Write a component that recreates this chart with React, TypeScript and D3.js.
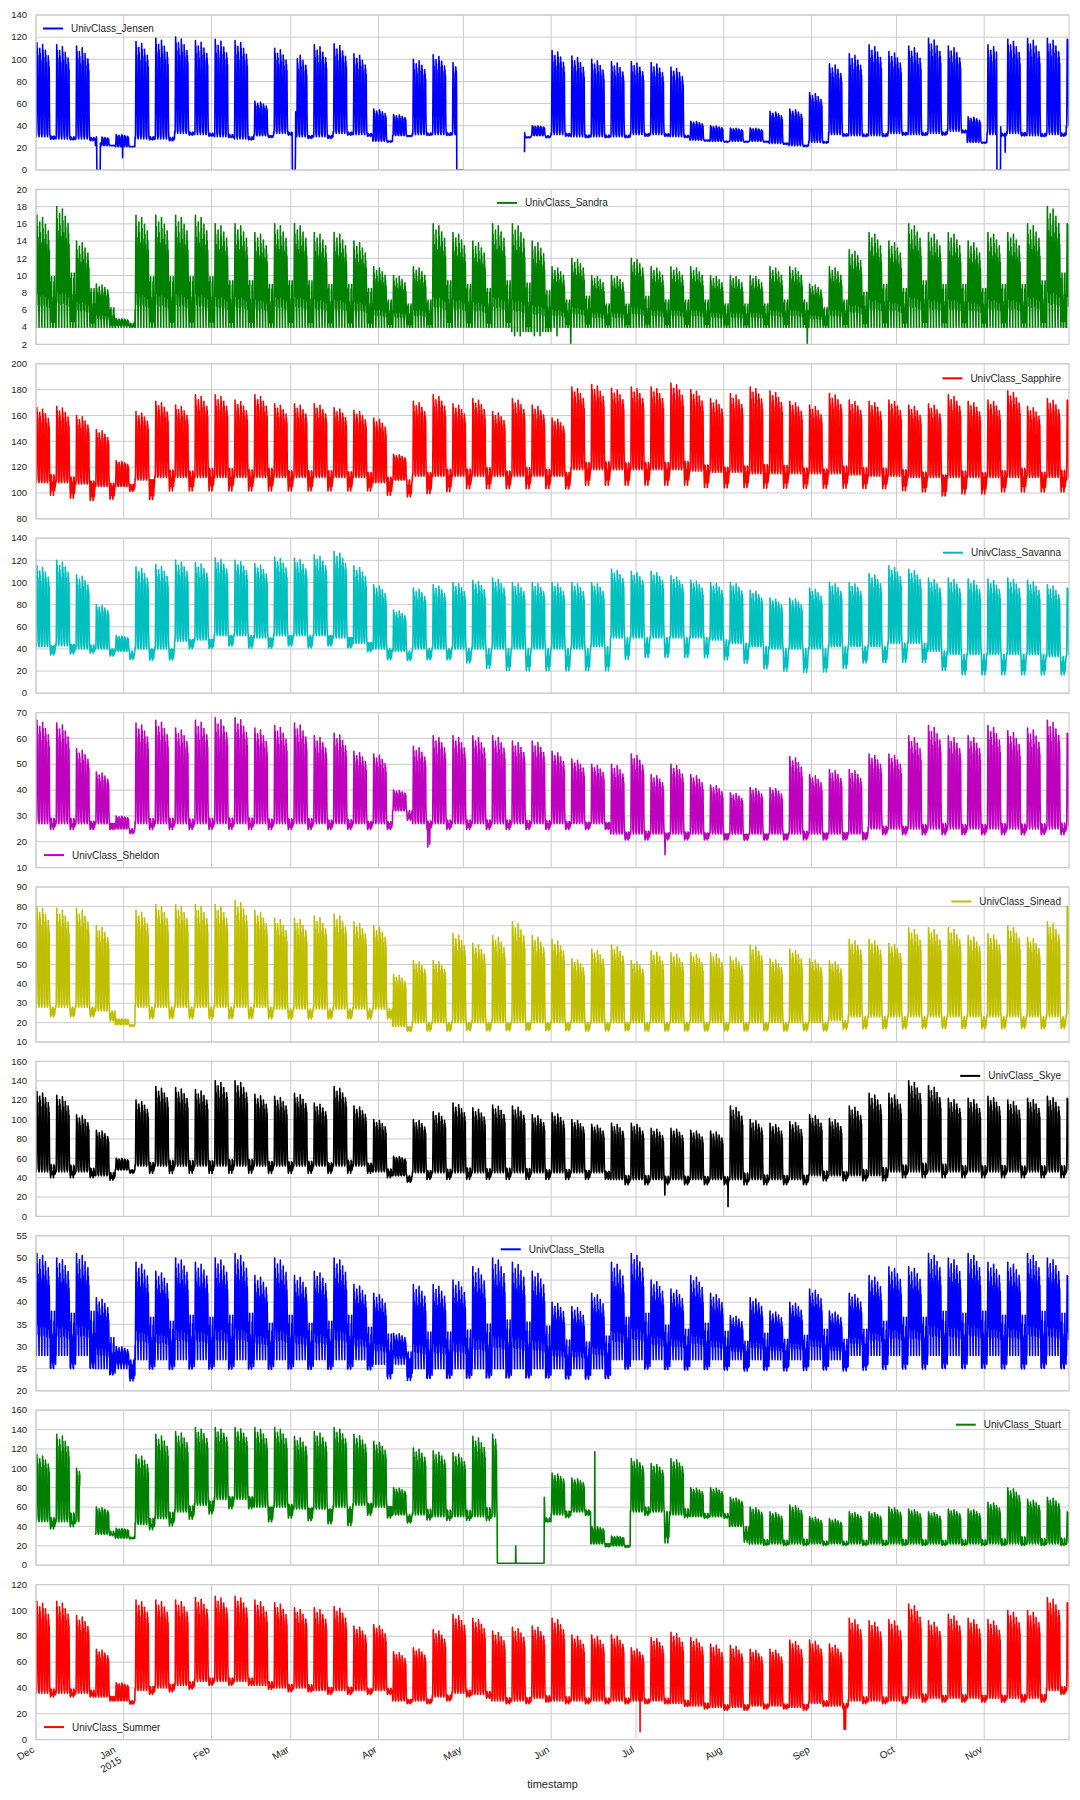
import React, { useMemo } from 'react';
import * as d3 from 'd3';

// ---- time frame: hourly meter data, Dec 2014 .. Nov 2015 (53 weeks starting Mondays)
const HOUR = 3600 * 1000;
const startDate = Date.UTC(2014, 11, 1);
const endDate = Date.UTC(2015, 10, 30, 23);
const at = (s: string) => Date.parse(s + ':00:00Z');

const monthTicks = ['2014-12-01', '2015-01-01', '2015-02-01', '2015-03-01', '2015-04-01', '2015-05-01',
  '2015-06-01', '2015-07-01', '2015-08-01', '2015-09-01', '2015-10-01', '2015-11-01'];
const monthLabels = ['Dec', 'Jan\n2015', 'Feb', 'Mar', 'Apr', 'May', 'Jun', 'Jul', 'Aug', 'Sep', 'Oct', 'Nov'];

// daily shape, one value every 2 hours
const weekdayShape = [0.02, 0, 0.04, 0.55, 1, 0.72, 0.94, 0.66, 0.86, 0.3, 0.1, 0.03];
const weekendShape = [1, 0.6, 0.25, 0, 0.35, 0.1, 0.45, 0.2, 0.55, 0.75, 0.9, 1];
const weekendBump = [0, 0, 0, 0.4, 1, 0.55, 0.85, 0.3, 0.1, 0, 0, 0];
// jumpier shape for the two rooms with noisy readings
const noisyWeekdayShape = [0.15, 0, 0.35, 0.7, 1, 0.45, 0.9, 0.3, 0.8, 0.55, 0.2, 0.4];
const noisyWeekendShape = [1, 0.3, 0.8, 0, 0.6, 0.2, 0.9, 0.1, 0.7, 0.4, 1, 0.5];
const noisyWeekendBump = [0.2, 0, 0.5, 0.1, 0.9, 0.3, 1, 0.2, 0.6, 0.1, 0.4, 0];
const weekdayScale = [1, 0.94, 0.98, 0.92, 0.86];

// ---- weekly readings (weekday peak, weekday night base, weekend low)
const jensenPeak = [115,113,112,30,32,116,119,120,117,118,117,62,110,105,113,114,105,55,50,100,104,97,30,30,35,40,108,103,100,98,98,97,93,44,40,38,38,53,55,70,96,105,113,107,112,119,112,48,113,118,119,119,118];
const jensenBase = [30,28,28,22,21,28,28,33,32,30,28,31,33,30,30,33,32,26,31,32,32,32,30,30,30,31,32,30,30,30,32,32,30,27,26,26,26,24,22,25,32,31,31,33,32,33,35,25,32,33,31,32,38];
const jensenWeekend = [27,27,26,22,21,27,26,31,30,29,27,29,31,28,28,31,30,25,30,31,31,31,30,30,29,29,30,29,29,29,30,30,29,26,25,25,25,23,21,24,30,30,30,31,31,31,33,24,30,30,30,30,36];

const sandraPeak = [17,18,14,9,5,17,17,17,17,16,16,15,16,16,15,15,14,11,10,11,16,15,14,16,16,14,11,12,10,10,12,11,11,11,10,10,10,11,11,9,11,13,15,14,16,15,15,14,15,15,16,18,16];
const sandraBase = [4,4,4,4,4,4,4,4,4,4,4,4,4,4,4,4,4,4,4,4,4,4,4,4,3.5,3.5,4,4,4,4,4,4,4,4,4,4,4,4,4,4,4,4,4,4,4,4,4,4,4,4,4,4,4];
const sandraWeekend = [4,4,4,4,4,4,4,4,4,4,4,4,4,4,4,4,4,4,4,4,4,4,4,4,3.5,3.5,4,4,4,4,4,4,4,4,4,4,4,4,4,4,4,4,4,4,4,4,4,4,4,4,4,4,4];

const sapphirePeak = [166,167,160,149,125,163,171,168,176,176,172,176,169,169,169,166,164,158,130,171,176,169,173,163,173,168,158,182,184,181,182,182,185,180,173,177,182,179,171,168,177,172,171,172,168,169,176,171,172,179,167,173,172];
const sapphireBase = [108,108,107,105,105,110,112,112,112,112,112,112,112,112,112,112,112,108,110,113,113,113,113,113,113,113,113,118,118,118,118,118,118,117,116,116,115,115,115,115,115,114,113,113,112,112,112,112,112,112,112,112,110];
const sapphireWeekend = [95,92,90,92,100,90,98,98,98,98,98,98,98,98,98,98,98,95,95,95,97,100,100,100,100,100,100,102,102,102,102,102,102,100,100,100,100,100,100,100,100,100,100,98,97,93,95,95,97,97,97,97,100];

const savannaPeak = [115,120,107,80,52,114,116,120,118,122,120,117,123,122,125,128,115,98,75,95,98,100,102,104,100,100,100,100,100,112,110,110,106,102,100,100,93,86,86,95,100,100,108,115,112,104,104,103,103,104,102,98,95];
const savannaBase = [42,43,40,40,38,40,40,47,48,52,52,50,52,52,52,50,45,40,38,40,40,40,40,40,40,40,40,40,42,50,50,50,50,50,48,45,42,40,40,40,42,42,42,45,45,38,35,35,35,35,35,33,33];
const savannaWeekend = [32,33,35,32,30,27,27,38,38,40,38,38,40,38,40,38,35,28,28,28,28,25,20,18,18,18,18,18,18,28,30,30,30,30,28,25,20,18,17,17,20,25,25,25,25,18,14,14,14,14,14,14,14];

const sheldonPeak = [67,66,56,47,30,66,67,64,67,68,68,64,65,66,61,62,55,54,40,57,61,61,61,61,59,59,55,52,50,50,54,46,50,46,42,39,41,41,53,46,48,48,54,54,61,65,61,61,65,63,64,67,62];
const sheldonBase = [27,27,27,27,25,27,27,27,27,27,27,27,27,27,27,27,27,27,32,27,27,27,27,27,27,27,27,27,27,23,23,23,23,23,23,23,23,23,23,23,23,23,25,25,25,25,25,25,25,25,25,25,25];
const sheldonWeekend = [24,24,24,24,23,24,24,24,24,24,24,24,24,24,24,24,24,24,28,24,24,24,24,24,24,24,24,24,24,20,20,20,20,20,20,20,20,20,20,20,20,20,22,22,22,22,22,22,22,22,22,22,22];

const sineadPeak = [80,79,79,70,22,78,81,81,81,81,83,78,74,74,75,76,72,70,45,52,52,66,61,65,72,65,63,53,58,60,52,57,56,56,56,54,60,53,58,53,52,63,63,61,69,69,69,65,66,70,64,72,80];
const sineadBase = [28,28,28,26,19,28,28,28,28,28,28,28,27,27,27,27,27,27,18,20,20,20,20,20,20,20,20,20,20,20,20,20,20,20,20,20,20,20,20,20,21,23,23,23,23,23,23,23,23,23,23,23,23];
const sineadWeekend = [22,22,22,20,18,21,21,21,21,21,21,21,21,21,21,21,21,21,15,15,15,15,15,15,15,15,15,15,15,15,15,15,15,15,15,15,15,15,15,15,16,16,16,16,16,16,16,16,16,16,16,16,16];

const skyePeak = [129,125,105,89,60,120,134,133,131,140,140,126,124,127,117,134,114,100,62,100,108,117,112,115,114,105,107,100,95,96,96,91,91,89,88,114,100,96,98,105,101,114,127,127,140,135,122,122,124,120,122,124,122];
const skyeBase = [46,46,46,42,48,52,52,52,52,52,52,52,52,52,52,52,52,46,42,45,45,45,45,45,45,45,45,45,45,38,38,38,38,38,38,38,38,38,38,42,42,42,42,46,46,46,46,46,46,46,46,46,46];
const skyeWeekend = [38,38,38,36,44,42,42,42,42,42,42,42,42,42,42,42,42,38,34,36,36,36,36,36,36,36,36,36,36,31,31,31,31,31,31,31,31,31,31,35,35,35,35,38,38,38,38,38,38,38,38,38,38];

const stellaPeak = [51,50,51,41,30,49,47,50,49,50,51,46,50,46,47,50,44,42,33,44,44,45,48,50,49,47,40,39,42,49,51,45,43,46,42,37,41,38,40,43,38,42,46,48,48,51,50,51,49,49,51,50,46];
const stellaBase = [28,28,28,25,25,27,27,27,27,27,27,27,27,27,27,27,27,26,26,25,25,25,25,25,25,25,25,25,25,27,27,27,27,27,27,27,27,27,27,27,27,28,28,28,28,28,28,28,28,28,28,28,28];
const stellaWeekend = [24,24,24,23,22,24,24,24,24,24,24,24,24,24,24,24,24,22,22,22,22,22,22,22,22,22,22,22,22,24,24,24,24,24,24,24,24,24,24,24,24,24,24,24,24,24,24,24,24,24,24,24,24];

const stuartPeak = [114,135,100,60,38,114,135,138,142,142,142,142,142,133,138,142,135,128,80,121,118,116,133,135,2,70,95,90,40,30,110,105,110,80,80,70,60,55,62,50,48,55,55,60,58,55,58,58,65,80,68,70,55];
const stuartBase = [45,45,45,32,28,42,48,55,62,68,68,60,60,58,58,60,62,60,52,52,50,50,50,50,2,45,52,55,22,20,55,55,52,50,50,40,22,22,22,22,22,22,22,22,22,22,22,22,22,22,22,22,22];
const stuartWeekend = [35,38,38,30,27,35,38,45,50,55,55,40,45,42,38,36,48,45,42,45,45,45,45,45,2,45,48,50,18,18,50,20,48,48,48,22,20,20,20,20,20,20,20,20,20,20,20,20,20,20,20,20,20];

const summerPeak = [107,107,96,70,44,108,108,108,110,111,111,108,106,102,102,103,88,89,68,71,85,97,94,84,87,88,94,81,81,81,71,79,83,79,74,73,70,70,77,77,74,94,92,93,105,92,97,94,93,100,100,110,106];
const summerBase = [36,36,36,33,30,38,40,42,45,45,45,42,40,40,38,38,38,38,30,30,33,36,35,30,30,32,30,30,30,30,30,30,28,26,25,25,26,26,25,28,26,30,30,30,32,32,32,32,32,32,32,38,38];
const summerWeekend = [32,32,32,29,27,34,36,38,41,41,41,38,36,36,34,34,34,34,27,27,29,32,31,27,27,28,27,27,27,27,27,27,25,23,22,22,23,23,22,25,23,27,27,27,28,28,28,28,28,28,28,34,34];

// outages and odd readings
const jensenGaps: [string, string][] = [['2015-05-01T01', '2015-05-22T13']];
const jensenFlats: [string, string, number][] = [
  ['2014-12-22T12', '2014-12-23T16', 0], ['2015-03-01T14', '2015-03-02T14', 0],
  ['2015-04-28T16', '2015-05-01T00', 0], ['2015-11-05T12', '2015-11-06T18', 0]];
const jensenSpikes: [string, number][] = [['2014-12-31T14', 11], ['2015-03-02T16', 16], ['2015-05-22T14', 16], ['2015-11-08T10', 16]];
const sandraSpikes: [string, number][] = [['2015-06-07T22', 2], ['2015-08-30T12', 2], ['2015-05-19T02', 3], ['2015-05-21T02', 3], ['2015-05-26T02', 3], ['2015-05-28T02', 3], ['2015-06-03T02', 3]];
const sheldonSpikes: [string, number][] = [['2015-04-18T10', 18], ['2015-04-19T02', 19], ['2015-07-11T06', 15]];
const skyeSpikes: [string, number][] = [['2015-08-02T12', 10], ['2015-07-11T04', 22]];
const stuartGaps: [string, string][] = [['2014-12-16T14', '2014-12-21T23']];
const stuartFlats: [string, string, number][] = [['2015-05-13T00', '2015-05-29T12', 2]];
const stuartSpikes: [string, number][] = [['2015-05-19T12', 20], ['2015-05-29T14', 70], ['2015-06-16T10', 117]];
const summerSpikes: [string, number][] = [['2015-07-02T10', 6], ['2015-09-12T12', 8], ['2015-09-13T00', 8]];

type Pt = { t: number; v: number | null };
type Opts = {
  lift: number; noisy?: boolean;
  flats?: [string, string, number][]; gaps?: [string, string][]; spikes?: [string, number][];
};

function buildSeries(peak: number[], base: number[], weekend: number[], o: Opts): Pt[] {
  const wd = o.noisy ? noisyWeekdayShape : weekdayShape;
  const we = o.noisy ? noisyWeekendShape : weekendShape;
  const bump = o.noisy ? noisyWeekendBump : weekendBump;
  const pts: Pt[] = [];
  for (let d = 0; d < 365; d++) {
    const w = Math.floor(d / 7), dow = d % 7;
    const p = peak[w], b = base[w], e = weekend[w];
    wd.forEach((_, k) => {
      const t = startDate + (d * 24 + k * 2) * HOUR;
      const v = dow < 5
        ? b + (p - b) * weekdayScale[dow] * wd[k]
        : e + (b - e) * we[k] + o.lift * (p - b) * bump[k];
      pts.push({ t, v });
    });
  }
  pts.push({ t: endDate, v: peak[52] });
  (o.flats || []).forEach(([a, b, val]) => {
    const ta = at(a), tb = at(b);
    pts.forEach(p => { if (p.t >= ta && p.t <= tb) p.v = val; });
  });
  (o.gaps || []).forEach(([a, b]) => {
    const ta = at(a), tb = at(b);
    pts.forEach(p => { if (p.t >= ta && p.t <= tb) p.v = null; });
  });
  (o.spikes || []).forEach(([s, val]) => {
    const ts = at(s);
    const i = d3.minIndex(pts, p => Math.abs(p.t - ts));
    pts[i].v = val;
  });
  return pts;
}

const panels = [
  { name: 'UnivClass_Jensen', color: '#0000ff', domain: [0, 140], step: 20, legend: 'ul',
    data: buildSeries(jensenPeak, jensenBase, jensenWeekend, { lift: 0.03, flats: jensenFlats, gaps: jensenGaps, spikes: jensenSpikes }) },
  { name: 'UnivClass_Sandra', color: '#008000', domain: [2, 20], step: 2, legend: 'uc',
    data: buildSeries(sandraPeak, sandraBase, sandraWeekend, { lift: 0.45, noisy: true, spikes: sandraSpikes }) },
  { name: 'UnivClass_Sapphire', color: '#ff0000', domain: [80, 200], step: 20, legend: 'ur',
    data: buildSeries(sapphirePeak, sapphireBase, sapphireWeekend, { lift: 0.25 }) },
  { name: 'UnivClass_Savanna', color: '#00bfbf', domain: [0, 140], step: 20, legend: 'ur',
    data: buildSeries(savannaPeak, savannaBase, savannaWeekend, { lift: 0.1 }) },
  { name: 'UnivClass_Sheldon', color: '#bf00bf', domain: [10, 70], step: 10, legend: 'll',
    data: buildSeries(sheldonPeak, sheldonBase, sheldonWeekend, { lift: 0.1, spikes: sheldonSpikes }) },
  { name: 'UnivClass_Sinead', color: '#bfbf00', domain: [10, 90], step: 10, legend: 'ur',
    data: buildSeries(sineadPeak, sineadBase, sineadWeekend, { lift: 0.05 }) },
  { name: 'UnivClass_Skye', color: '#000000', domain: [0, 160], step: 20, legend: 'ur',
    data: buildSeries(skyePeak, skyeBase, skyeWeekend, { lift: 0.15, spikes: skyeSpikes }) },
  { name: 'UnivClass_Stella', color: '#0000ff', domain: [20, 55], step: 5, legend: 'uc',
    data: buildSeries(stellaPeak, stellaBase, stellaWeekend, { lift: 0.45, noisy: true }) },
  { name: 'UnivClass_Stuart', color: '#008000', domain: [0, 160], step: 20, legend: 'ur',
    data: buildSeries(stuartPeak, stuartBase, stuartWeekend, { lift: 0.15, flats: stuartFlats, gaps: stuartGaps, spikes: stuartSpikes }) },
  { name: 'UnivClass_Summer', color: '#ff0000', domain: [0, 120], step: 20, legend: 'll',
    data: buildSeries(summerPeak, summerBase, summerWeekend, { lift: 0.08, spikes: summerSpikes }) },
];

const W = 1080, H = 1800;
const left = 36, right = 1069, top0 = 15, panelStep = 174.4, panelH = 155;
const FONT = '"Liberation Sans", Arial, Helvetica, sans-serif';
const TEXT = '#262626';
const GRID = '#cccccc';

function textWidth(s: string, size: number) {
  const ctx = document.createElement('canvas').getContext('2d');
  if (!ctx) return s.length * size * 0.52;
  ctx.font = `${size}px ${FONT}`;
  return ctx.measureText(s).width;
}

export default function App() {
  const x = useMemo(() => d3.scaleUtc().domain([startDate, endDate]).range([left, right]), []);
  const tickX = monthTicks.map(s => x(Date.parse(s + 'T00:00:00Z')));

  return (
    <div style={{ position: 'absolute', left: 0, top: 0 }}>
      <svg width={W} height={H} style={{ display: 'block', background: '#fff' }} fontFamily={FONT}>
        {panels.map((pn, i) => {
          const top = top0 + i * panelStep;
          const bottom = top + panelH;
          const y = d3.scaleLinear().domain(pn.domain).range([bottom, top]);
          const yTicks = d3.range(pn.domain[0], pn.domain[1] + pn.step / 2, pn.step);
          const line = d3.line<Pt>().defined(p => p.v != null).x(p => x(p.t)).y(p => y(p.v as number));
          const tw = textWidth(pn.name, 10);
          let lx0: number, ly: number;
          if (pn.legend === 'ul') { lx0 = left + 7; ly = top + 13.5; }
          else if (pn.legend === 'll') { lx0 = left + 8; ly = bottom - 12.5; }
          else if (pn.legend === 'uc') { lx0 = (left + right) / 2 - (28 + tw) / 2; ly = top + 13.5; }
          else { lx0 = right - 8 - tw - 28; ly = top + 14.5; }
          return (
            <g key={pn.name}>
              <clipPath id={`clip${i}`}><rect x={left} y={top} width={right - left} height={panelH} /></clipPath>
              {yTicks.map(v => (
                <line key={'h' + v} x1={left} x2={right} y1={y(v)} y2={y(v)} stroke={GRID} strokeWidth={1} />
              ))}
              {tickX.map((tx, k) => (
                <line key={'v' + k} x1={tx} x2={tx} y1={top} y2={bottom} stroke={GRID} strokeWidth={1} />
              ))}
              <path d={line(pn.data) || ''} fill="none" stroke={pn.color} strokeWidth={1.6}
                strokeLinejoin="round" clipPath={`url(#clip${i})`} />
              <rect x={left} y={top} width={right - left} height={panelH} fill="none" stroke={GRID} strokeWidth={1.2} />
              {yTicks.map(v => (
                <text key={'t' + v} x={left - 9} y={y(v)} dy="0.34em" textAnchor="end" fontSize={9.5} fill={TEXT}>{v}</text>
              ))}
              <line x1={lx0} x2={lx0 + 20} y1={ly} y2={ly} stroke={pn.color} strokeWidth={2} />
              <text x={lx0 + 28} y={ly} dy="0.35em" fontSize={10} fill={TEXT}>{pn.name}</text>
            </g>
          );
        })}
        {monthLabels.map((lab, k) => {
          const lines = lab.split('\n');
          const bottom = top0 + 9 * panelStep + panelH;
          const bx = tickX[k] - 1 - (lines.length - 1) * 6.5;
          return (
            <text key={lab} transform={`translate(${bx},${bottom + 12}) rotate(-30)`} textAnchor="end" fontSize={10} fill={TEXT}>
              {lines.map((l, j) => <tspan key={j} x={0} dy={j === 0 ? 0 : '1.2em'}>{l}</tspan>)}
            </text>
          );
        })}
        <text x={(left + right) / 2} y={1788} textAnchor="middle" fontSize={11} fill={TEXT}>timestamp</text>
      </svg>
    </div>
  );
}
